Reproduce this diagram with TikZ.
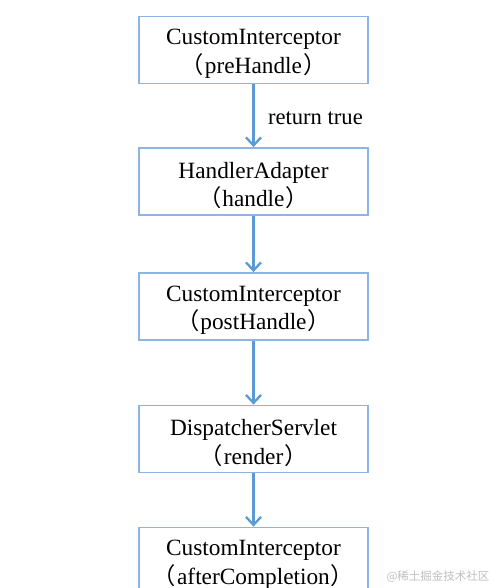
\documentclass[tikz,border=0pt]{standalone}
\usepackage{fontspec}
\setmainfont{Liberation Serif}
\newfontfamily\cjk{Noto Sans CJK SC}
\usetikzlibrary{arrows.meta}
\definecolor{boxblue}{RGB}{141,180,226}
\definecolor{arrblue}{RGB}{91,155,213}
\newcommand{\lp}{{\cjk（}\hspace{1pt}}
\newcommand{\rp}{\hspace{1pt}{\cjk）}}
\tikzset{
  x=1pt, y=-1pt,
  stepbox/.style={draw=boxblue, line width=1.8pt, minimum width=229pt, minimum height=67pt,
    inner sep=0pt, fill=white},
  txt/.style={align=center, inner sep=0pt, font=\fontsize{23.3}{28.5}\selectfont},
  flow/.style={draw=arrblue, line width=2.4pt, -{Straight Barb[length=8pt,width=15pt,line width=2.3pt]}},
  lbl/.style={font=\fontsize{22.6}{26}\selectfont}
}
\begin{document}
\begin{tikzpicture}
\clip (0,0) rectangle (496,588);
\fill[white] (0,0) rectangle (496,588);
\node[stepbox] (a) at (253.5,50) {};
\node[stepbox] (b) at (253.5,181.5) {};
\node[stepbox] (c) at (253.5,306.5) {};
\node[stepbox] (d) at (253.5,439) {};
\node[stepbox] (e) at (253.5,561) {};
\node[txt] (ta) at ([yshift=-4pt]a.center) {CustomInterceptor\\\lp preHandle\rp};
\node[txt] (tb) at ([yshift=-4pt]b.center) {HandlerAdapter\\\lp handle\rp};
\node[txt] (tc) at ([yshift=-4pt]c.center) {CustomInterceptor\\\lp postHandle\rp};
\node[txt] (td) at ([yshift=-4pt]d.center) {DispatcherServlet\\\lp render\rp};
\node[txt] (te) at ([yshift=-4pt]e.center) {CustomInterceptor\\\lp afterCompletion\rp};
\draw[flow] (a) -- (b) node[midway, right=10pt, yshift=-2pt, lbl] (t) {return true};
\draw[flow] (b) -- (c);
\draw[flow] (c) -- (d);
\draw[flow] (d) -- (e);
\node[text=gray!50, font=\cjk\fontsize{11.5}{12}\selectfont, anchor=east] (w) at (493,577) {@稀土掘金技术社区};
\end{tikzpicture}
\end{document}
